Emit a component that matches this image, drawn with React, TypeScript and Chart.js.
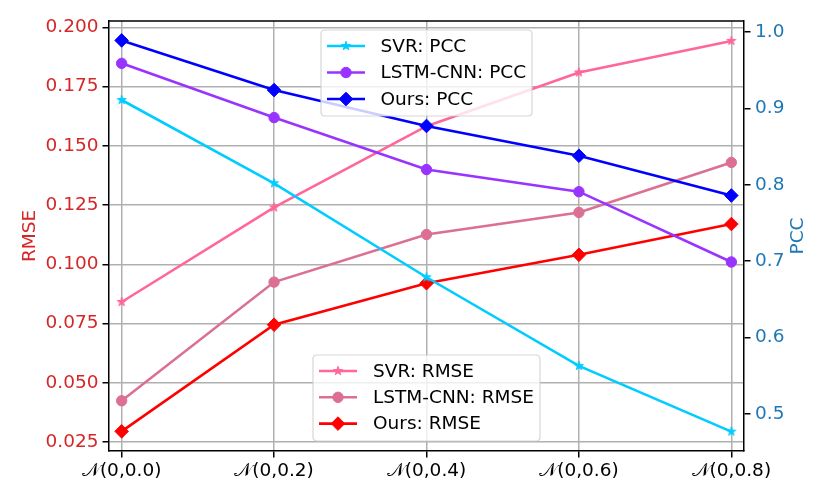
import React, { useEffect, useRef } from 'react';
import { Chart, registerables } from 'chart.js';

Chart.register(...registerables);

// ---- data ----
const categories = ['𝒩(0,0.0)', '𝒩(0,0.2)', '𝒩(0,0.4)', '𝒩(0,0.6)', '𝒩(0,0.8)'];
const svrRmse = [0.0841, 0.124, 0.1583, 0.181, 0.1943];
const lstmRmse = [0.0424, 0.0925, 0.1126, 0.1219, 0.143];
const oursRmse = [0.0295, 0.0745, 0.092, 0.104, 0.117];
const svrPcc = [0.911, 0.802, 0.679, 0.563, 0.477];
const lstmPcc = [0.959, 0.888, 0.82, 0.791, 0.699];
const oursPcc = [0.989, 0.924, 0.877, 0.838, 0.786];
const rmseTicks = [0.025, 0.05, 0.075, 0.1, 0.125, 0.15, 0.175, 0.2];
const pccTicks = [0.5, 0.6, 0.7, 0.8, 0.9, 1.0];

// ---- style ----
const FONT = '"DejaVu Sans", sans-serif';
const FS = 18.5;
const LW = 2.6;
const DIAMOND_R = 6.8;
const CIRCLE_R = 5.2;
const C_SVR_PCC = '#00ccff';
const C_LSTM_PCC = '#9933ff';
const C_OURS_PCC = '#0000ff';
const C_SVR_RMSE = '#ff6699';
const C_LSTM_RMSE = '#db7093';
const C_OURS_RMSE = '#ff0000';

function makeStar(color: string, R: number) {
  const size = Math.ceil(R * 2 + 4);
  const c = document.createElement('canvas');
  c.width = size;
  c.height = size;
  const ctx = c.getContext('2d')!;
  ctx.translate(size / 2, size / 2);
  ctx.beginPath();
  for (let i = 0; i < 10; i++) {
    const r = i % 2 === 0 ? R : R * 0.381966;
    const a = -Math.PI / 2 + (i * Math.PI) / 5;
    ctx.lineTo(r * Math.cos(a), r * Math.sin(a));
  }
  ctx.closePath();
  ctx.fillStyle = color;
  ctx.fill();
  ctx.lineWidth = 1;
  ctx.strokeStyle = color;
  ctx.lineJoin = 'round';
  ctx.stroke();
  return c;
}

function drawMarker(ctx: CanvasRenderingContext2D, style: any, x: number, y: number, color: string) {
  ctx.save();
  ctx.fillStyle = color;
  ctx.strokeStyle = color;
  ctx.lineWidth = 1;
  if (style === 'circle') {
    ctx.beginPath();
    ctx.arc(x, y, CIRCLE_R, 0, Math.PI * 2);
    ctx.fill();
    ctx.stroke();
  } else if (style === 'rectRot') {
    const r = DIAMOND_R;
    ctx.beginPath();
    ctx.moveTo(x - r, y);
    ctx.lineTo(x, y - r);
    ctx.lineTo(x + r, y);
    ctx.lineTo(x, y + r);
    ctx.closePath();
    ctx.fill();
    ctx.stroke();
  } else {
    ctx.drawImage(style, x - style.width / 2, y - style.height / 2, style.width, style.height);
  }
  ctx.restore();
}

function roundRect(ctx: CanvasRenderingContext2D, x: number, y: number, w: number, h: number, r: number) {
  ctx.beginPath();
  ctx.moveTo(x + r, y);
  ctx.lineTo(x + w - r, y);
  ctx.quadraticCurveTo(x + w, y, x + w, y + r);
  ctx.lineTo(x + w, y + h - r);
  ctx.quadraticCurveTo(x + w, y + h, x + w - r, y + h);
  ctx.lineTo(x + r, y + h);
  ctx.quadraticCurveTo(x, y + h, x, y + h - r);
  ctx.lineTo(x, y + r);
  ctx.quadraticCurveTo(x, y, x + r, y);
  ctx.closePath();
}

export default function App() {
  const ref = useRef<HTMLCanvasElement>(null);

  useEffect(() => {
    document.body.style.margin = '0';
    const starSvrPcc = makeStar(C_SVR_PCC, 4.7);
    const starSvrRmse = makeStar(C_SVR_RMSE, 4.7);

    const mk = (label: string, data: number[], color: string, style: any, axis: string, order: number) => ({
      label,
      data: data.map((y, i) => ({ x: i, y })),
      borderColor: color,
      backgroundColor: color,
      pointBackgroundColor: color,
      pointBorderColor: color,
      borderWidth: LW,
      pointBorderWidth: 1,
      pointRadius: style === 'circle' ? CIRCLE_R : style === 'rectRot' ? DIAMOND_R : 5,
      pointStyle: style,
      yAxisID: axis,
      order,
      fill: false,
      tension: 0,
    });

    const datasets = [
      mk('SVR: RMSE', svrRmse, C_SVR_RMSE, starSvrRmse, 'y', 6),
      mk('LSTM-CNN: RMSE', lstmRmse, C_LSTM_RMSE, 'circle', 'y', 5),
      mk('Ours: RMSE', oursRmse, C_OURS_RMSE, 'rectRot', 'y', 4),
      mk('SVR: PCC', svrPcc, C_SVR_PCC, starSvrPcc, 'y1', 3),
      mk('LSTM-CNN: PCC', lstmPcc, C_LSTM_PCC, 'circle', 'y1', 2),
      mk('Ours: PCC', oursPcc, C_OURS_PCC, 'rectRot', 'y1', 1),
    ];

    const extras = {
      id: 'extras',
      afterDraw(chart: any) {
        const ctx: CanvasRenderingContext2D = chart.ctx;
        const ca = chart.chartArea;
        // top spine
        ctx.save();
        ctx.strokeStyle = '#000';
        ctx.lineWidth = 1.5;
        ctx.beginPath();
        ctx.moveTo(ca.left, ca.top);
        ctx.lineTo(ca.right, ca.top);
        ctx.stroke();
        ctx.restore();

        // legends
        const cx = (ca.left + ca.right) / 2;
        const drawLegend = (items: any[], top: number, width: number, height: number, rowGap: number, firstRow: number, handleOff: number, textOff: number) => {
          const left = cx - width / 2;
          ctx.save();
          roundRect(ctx, left, top, width, height, 4);
          ctx.fillStyle = 'rgba(255,255,255,0.8)';
          ctx.fill();
          ctx.strokeStyle = 'rgba(204,204,204,0.8)';
          ctx.lineWidth = 1.2;
          ctx.stroke();
          items.forEach((it, k) => {
            const y = top + firstRow + k * rowGap;
            const hx0 = left + handleOff;
            const hx1 = hx0 + 38;
            ctx.strokeStyle = it.borderColor;
            ctx.lineWidth = LW;
            ctx.beginPath();
            ctx.moveTo(hx0, y);
            ctx.lineTo(hx1, y);
            ctx.stroke();
            drawMarker(ctx, it.pointStyle, (hx0 + hx1) / 2, y, it.borderColor);
            ctx.fillStyle = '#000';
            ctx.font = `${FS}px ${FONT}`;
            ctx.textBaseline = 'middle';
            ctx.textAlign = 'left';
            ctx.fillText(it.label, left + textOff, y + 1);
          });
          ctx.restore();
        };
        const ds = chart.data.datasets;
        drawLegend([ds[3], ds[4], ds[5]], ca.top + 9, 211, 86, 26.5, 16, 6, 59.5);
        drawLegend([ds[0], ds[1], ds[2]], ca.bottom - 96, 227, 86, 26.3, 16, 6, 60);

        // axis titles
        ctx.save();
        ctx.font = `${FS}px ${FONT}`;
        ctx.textAlign = 'center';
        ctx.textBaseline = 'middle';
        const midY = (ca.top + ca.bottom) / 2;
        ctx.translate(30, midY);
        ctx.rotate(-Math.PI / 2);
        ctx.fillStyle = '#d62728';
        ctx.fillText('RMSE', 0, 0);
        ctx.restore();
        ctx.save();
        ctx.font = `${FS}px ${FONT}`;
        ctx.textAlign = 'center';
        ctx.textBaseline = 'middle';
        ctx.translate(798, midY);
        ctx.rotate(-Math.PI / 2);
        ctx.fillStyle = '#1f77b4';
        ctx.fillText('PCC', 0, 0);
        ctx.restore();
      },
    };

    const gridCommon = {
      color: '#b0b0b0',
      lineWidth: 1.5,
      tickColor: '#000',
      tickLength: 6.5,
      tickWidth: 1.5,
    };

    const chart = new Chart(ref.current!, {
      type: 'line',
      data: { datasets: datasets as any },
      options: {
        animation: false,
        responsive: false,
        layout: { padding: { top: 21, left: 0, right: 0, bottom: 0 } },
        plugins: { legend: { display: false }, tooltip: { enabled: false } },
        scales: {
          x: {
            type: 'linear',
            min: -0.083,
            max: 4.083,
            afterBuildTicks: (s: any) => {
              s.ticks = categories.map((_, i) => ({ value: i }));
            },
            afterFit: (s: any) => {
              s.height = 53;
            },
            ticks: {
              callback: (_v: any, i: number) => categories[i],
              color: '#000',
              font: { family: FONT, size: FS },
              padding: 3,
              maxRotation: 0,
              autoSkip: false,
            },
            grid: gridCommon,
            border: { color: '#000', width: 1.5 },
          },
          y: {
            type: 'linear',
            position: 'left',
            min: 0.0212,
            max: 0.2027,
            afterBuildTicks: (s: any) => {
              s.ticks = rmseTicks.map((v) => ({ value: v }));
            },
            afterFit: (s: any) => {
              s.width = 109;
            },
            ticks: {
              callback: (v: any) => Number(v).toFixed(3),
              color: '#d62728',
              font: { family: FONT, size: FS },
              padding: 4,
            },
            grid: gridCommon,
            border: { color: '#000', width: 1.5 },
          },
          y1: {
            type: 'linear',
            position: 'right',
            min: 0.4516,
            max: 1.0144,
            afterBuildTicks: (s: any) => {
              s.ticks = pccTicks.map((v) => ({ value: v }));
            },
            afterFit: (s: any) => {
              s.width = 86;
            },
            ticks: {
              callback: (v: any) => Number(v).toFixed(1),
              color: '#1f77b4',
              font: { family: FONT, size: FS },
              padding: 4.5,
            },
            grid: { ...gridCommon, drawOnChartArea: false },
            border: { color: '#000', width: 1.5 },
          },
        },
      },
      plugins: [extras],
    });
    return () => chart.destroy();
  }, []);

  return (
    <div style={{ width: 830, height: 504, background: '#fff' }}>
      <canvas ref={ref} width={830} height={504} style={{ display: 'block' }} />
    </div>
  );
}
